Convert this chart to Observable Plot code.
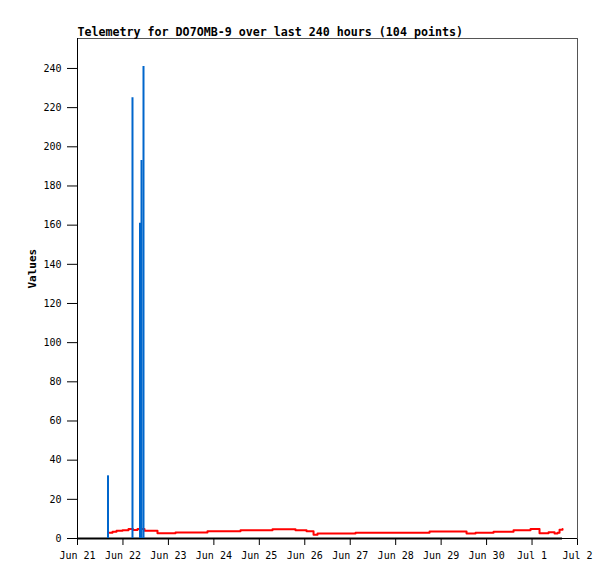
<!DOCTYPE html>
<html>
<head>
<meta charset="utf-8">
<script src="https://cdn.jsdelivr.net/npm/d3@7"></script>
<script src="https://cdn.jsdelivr.net/npm/@observablehq/plot@0.6"></script>
<style>
  body { margin: 0; background: white; }
  #chart { position: relative; width: 615px; height: 579px; }
</style>
</head>
<body>
<div id="chart"></div>
<script>
// ---- data ----
const titleText = "Telemetry for DO7OMB-9 over last 240 hours (104 points)";
const yLabel = "Values";

// blue series (bars)
const barTimes = ["2024-06-21T16:06Z", "2024-06-22T05:02Z", "2024-06-22T09:00Z", "2024-06-22T09:48Z", "2024-06-22T10:51Z"];
const barValues = [32, 225, 161, 193, 241];

// red series (step line)
const lineTimes = [
  "2024-06-21T16:54Z", "2024-06-21T18:29Z", "2024-06-21T20:36Z", "2024-06-21T23:46Z",
  "2024-06-22T02:56Z", "2024-06-22T05:18Z", "2024-06-22T07:41Z", "2024-06-22T11:22Z",
  "2024-06-22T18:14Z", "2024-06-23T03:45Z", "2024-06-23T20:38Z", "2024-06-24T14:04Z",
  "2024-06-25T06:58Z", "2024-06-25T19:06Z", "2024-06-26T00:56Z", "2024-06-26T04:38Z",
  "2024-06-26T06:44Z", "2024-06-27T02:48Z", "2024-06-28T17:53Z", "2024-06-29T13:25Z",
  "2024-06-29T18:10Z", "2024-06-30T03:40Z", "2024-06-30T14:14Z", "2024-06-30T23:12Z",
  "2024-07-01T03:57Z", "2024-07-01T08:43Z", "2024-07-01T11:53Z", "2024-07-01T13:28Z",
  "2024-07-01T14:31Z", "2024-07-01T16:06Z"
];
const lineValues = [
  3.0, 3.4, 3.9, 4.2,
  4.8, 4.4, 4.8, 3.9,
  2.7, 3.1, 3.7, 4.2,
  4.7, 4.2, 3.7, 1.9,
  2.5, 3.0, 3.6, 2.5,
  3.0, 3.5, 4.2, 4.8,
  2.7, 3.2, 2.5, 3.0,
  4.5, 4.8
];

// black series (zero)
const zeroStart = "2024-06-21T00:00Z";
const zeroEnd = "2024-07-01T16:06Z";

// axes
const xDomain = ["2024-06-21T00:00Z", "2024-07-02T00:00Z"];
const xTicks = ["2024-06-21", "2024-06-22", "2024-06-23", "2024-06-24", "2024-06-25", "2024-06-26",
                "2024-06-27", "2024-06-28", "2024-06-29", "2024-06-30", "2024-07-01", "2024-07-02"];
const yMax = 255.3;
const yTicks = [0, 20, 40, 60, 80, 100, 120, 140, 160, 180, 200, 220, 240];

// ---- build ----
const bars = barTimes.map((t, i) => ({t: new Date(t), v: barValues[i]}));
const line = lineTimes.map((t, i) => ({t: new Date(t), v: lineValues[i]}));
const zero = [{y: 0, x1: new Date(zeroStart), x2: new Date(zeroEnd)}];
const fmt = d3.utcFormat("%b %-d");

const chart = Plot.plot({
  width: 615,
  height: 579,
  marginLeft: 77,
  marginRight: 38,
  marginTop: 38,
  marginBottom: 41,
  style: {fontFamily: "'DejaVu Sans Mono', monospace", fontSize: "10px", background: "white", color: "black"},
  x: {
    type: "utc",
    domain: xDomain.map(d => new Date(d)),
    ticks: xTicks.map(d => new Date(d + "T00:00Z")),
    tickFormat: fmt,
    tickSize: 7,
    tickPadding: 6,
    label: null
  },
  y: {
    domain: [0, yMax],
    ticks: yTicks,
    tickSize: 10,
    tickPadding: 6,
    label: null
  },
  marks: [
    Plot.frame({stroke: "#555"}),
    Plot.ruleX([new Date(xDomain[0])], {stroke: "black"}),
    Plot.ruleY([0], {stroke: "black"}),
    Plot.ruleY(zero, {y: "y", x1: "x1", x2: "x2", stroke: "black", strokeWidth: 2}),
    Plot.line(line, {x: "t", y: "v", curve: "step-after", stroke: "#ff0000", strokeWidth: 2}),
    Plot.ruleX(bars, {x: "t", y1: 0, y2: "v", stroke: "#0066cc", strokeWidth: 2}),
    Plot.text([yLabel], {frameAnchor: "left", dx: -45, rotate: -90, fontWeight: "bold", fontSize: 11, fill: "black"}),
    Plot.text([titleText], {frameAnchor: "top-left", dx: 0, dy: -3, textAnchor: "start", lineAnchor: "bottom", fontWeight: "bold", fontSize: 11.65, fill: "black"})
  ]
});

document.getElementById("chart").appendChild(chart);
</script>
</body>
</html>
